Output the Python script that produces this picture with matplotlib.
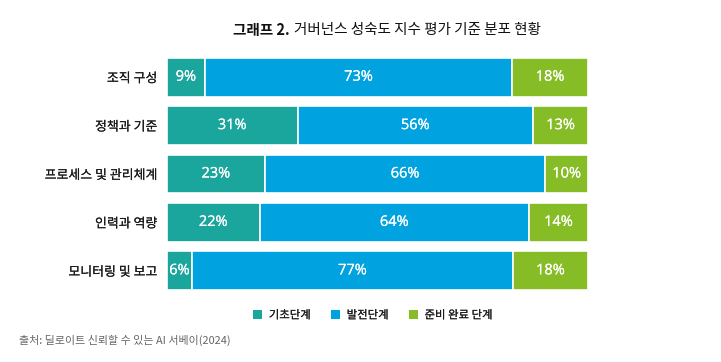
import matplotlib
matplotlib.use("Agg")
import matplotlib.pyplot as plt
import matplotlib.patheffects as pe
from matplotlib.patches import Patch
import numpy as np

plt.rcParams['font.family'] = ['Noto Sans CJK KR', 'DejaVu Sans']

categories = ["조직 구성", "정책과 기준", "프로세스 및 관리체계", "인력과 역량", "모니터링 및 보고"]
series_names = ["기초단계", "발전단계", "준비 완료 단계"]
basic = [9, 31, 23, 22, 6]
developing = [73, 56, 66, 64, 77]
ready = [18, 13, 10, 14, 18]
colors = ["#1AA59D", "#00A3E0", "#86BC25"]

fig = plt.figure(figsize=(7.21, 3.62), dpi=100)
ax = fig.add_axes([167/721, 1-295/362, (588-167)/721, (295-53)/362])

data = np.array([basic, developing, ready], dtype=float)
totals = data.sum(axis=0)
norm = data / totals * 100
y = np.arange(len(categories))
left = np.zeros(len(categories))
for i in range(3):
    ax.barh(y, norm[i], left=left, height=0.8, color=colors[i],
            edgecolor='white', linewidth=1.2)
    for j in range(len(categories)):
        ax.text(left[j] + norm[i][j] / 2, y[j],
                f"{int(data[i][j])}%", ha='center', va='center',
                color='white', fontsize=10.5, family=['Open Sans', 'DejaVu Sans'],
                path_effects=[pe.withStroke(linewidth=0.15, foreground='white')])
    left += norm[i]

def heavy(c, w=0.12):
    return [pe.withStroke(linewidth=w, foreground=c)]

ax.set_xlim(0, 100)
ax.set_ylim(len(categories) - 0.5, -0.5)
ax.set_yticks(y)
ax.set_yticklabels(categories, fontsize=9.3, color='#1a1a1a')
for lab in ax.get_yticklabels():
    lab.set_path_effects(heavy('#1a1a1a', 0.08))
ax.tick_params(axis='y', length=0, pad=7)
ax.set_xticks([])
for s in ax.spines.values():
    s.set_visible(False)

# Title: bold part + regular part
t1 = fig.text(233/721, 1-30/362, "그래프 2.", fontsize=10.5, fontweight='bold',
              ha='left', va='center', color='#111111')
fig.canvas.draw()
bb = t1.get_window_extent(fig.canvas.get_renderer())
fig.text(bb.x1/721 + 4/721, 1-30/362, "거버넌스 성숙도 지수 평가 기준 분포 현황",
         fontsize=10.5, ha='left', va='center', color='#111111')

handles = [Patch(facecolor=c, edgecolor='none') for c in colors]
leg = fig.legend(handles, series_names, loc='center', bbox_to_anchor=(373/721, 1-315/362),
                 ncol=3, frameon=False, handlelength=0.75, handleheight=0.75,
                 columnspacing=1.8, handletextpad=0.6, prop={'size': 8.2})
for t in leg.get_texts():
    t.set_color('#1a1a1a')
    t.set_path_effects(heavy('#1a1a1a', 0.08))

fig.text(19/721, 1-340/362, "출처: 딜로이트 신뢰할 수 있는 AI 서베이(2024)", fontsize=7.9,
         color='#666666', ha='left', va='center')

fig.savefig("out.png", dpi=100, facecolor='white')
